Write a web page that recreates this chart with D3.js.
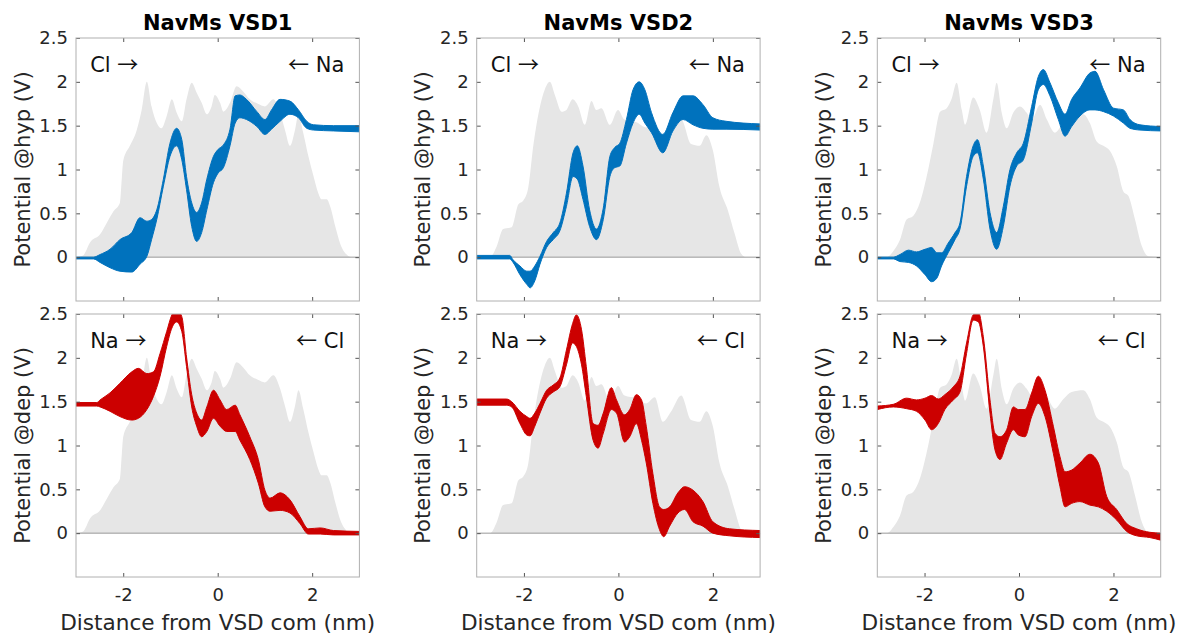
<!DOCTYPE html>
<html>
<head>
<meta charset="utf-8">
<script src="https://cdn.jsdelivr.net/npm/d3@7/dist/d3.min.js"></script>
<style>
  body { margin: 0; background: #fff; }
  svg { display: block; }
</style>
</head>
<body>
<svg id="chart" width="1184" height="634"></svg>
<script>
// ---- data (nm / V) ----
const titles = ['NavMs VSD1', 'NavMs VSD2', 'NavMs VSD3'];
const row_labels = ['Potential @hyp (V)', 'Potential @dep (V)'];
const x_label = 'Distance from VSD com (nm)';
const x_ticks = [-2, 0, 2];
const y_ticks = [0, 0.5, 1, 1.5, 2, 2.5];
// [ion on the left, ion on the right] per row
const ion_names = [['Cl', 'Na'], ['Na', 'Cl']];

// density profile (grey), one per VSD
const gray1_x = [-3.0, -2.85, -2.70, -2.49, -2.35, -2.21, -2.07, -2.03, -2.00, -1.86, -1.72, -1.61, -1.50, -1.40, -1.29, -1.19, -1.08, -0.97, -0.87, -0.76, -0.66, -0.55, -0.44, -0.34, -0.23, -0.13, -0.06, 0.05, 0.12, 0.26, 0.40, 0.54, 0.68, 0.85, 1.0, 1.18, 1.32, 1.43, 1.53, 1.64, 1.71, 1.81, 1.92, 2.03, 2.13, 2.20, 2.31, 2.38, 2.49, 2.59, 2.73, 2.84, 3.0];
const gray1_y = [0, 0.02, 0.17, 0.26, 0.39, 0.52, 0.62, 0.90, 1.10, 1.27, 1.44, 1.68, 2.0, 1.72, 1.53, 1.47, 1.61, 1.80, 1.65, 1.55, 1.80, 1.99, 1.87, 1.76, 1.63, 1.72, 1.85, 1.76, 1.66, 1.76, 1.95, 1.89, 1.80, 1.75, 1.72, 1.80, 1.65, 1.44, 1.27, 1.46, 1.63, 1.42, 1.15, 0.92, 0.73, 0.66, 0.66, 0.58, 0.35, 0.16, 0.03, 0, 0];
const gray2_x = [-3.0, -2.72, -2.58, -2.44, -2.26, -2.12, -2.01, -1.91, -1.80, -1.66, -1.56, -1.45, -1.345, -1.20, -1.10, -0.97, -0.85, -0.71, -0.57, -0.47, -0.36, -0.18, -0.01, 0.13, 0.38, 0.59, 0.77, 0.94, 1.12, 1.33, 1.54, 1.72, 1.86, 2.0, 2.14, 2.32, 2.46, 2.60, 2.70, 3.0];
const gray2_y = [0, 0, 0.12, 0.32, 0.34, 0.60, 0.65, 0.79, 1.28, 1.72, 1.91, 2.0, 1.85, 1.66, 1.68, 1.80, 1.72, 1.51, 1.78, 1.68, 1.70, 1.51, 1.68, 1.57, 1.54, 1.48, 1.55, 1.27, 1.39, 1.57, 1.29, 1.27, 1.39, 1.22, 0.80, 0.53, 0.27, 0.04, 0, 0];
const gray3_x = [-3.0, -2.80, -2.66, -2.52, -2.38, -2.24, -2.10, -1.955, -1.81, -1.67, -1.53, -1.43, -1.32, -1.21, -1.14, -0.97, -0.83, -0.685, -0.544, -0.473, -0.367, -0.26, -0.12, 0.02, 0.16, 0.27, 0.445, 0.59, 0.76, 0.94, 1.115, 1.36, 1.50, 1.645, 1.786, 1.927, 2.068, 2.21, 2.315, 2.456, 2.598, 2.74, 3.0];
const gray3_y = [0, 0, 0.07, 0.20, 0.43, 0.47, 0.62, 0.92, 1.30, 1.66, 1.70, 1.80, 1.99, 1.68, 1.51, 1.82, 1.68, 1.42, 1.80, 1.99, 1.65, 1.47, 1.65, 1.72, 1.65, 1.57, 1.74, 1.57, 1.42, 1.53, 1.61, 1.63, 1.53, 1.32, 1.27, 1.21, 1.04, 0.75, 0.70, 0.43, 0.13, 0.01, 0];

// potential envelopes, hyperpolarised (blue)
const hyp1_x = [-3.0, -2.63, -2.49, -2.28, -2.07, -1.82, -1.645, -1.50, -1.40, -1.29, -1.15, -1.01, -0.87, -0.76, -0.66, -0.55, -0.445, -0.34, -0.23, -0.09, 0.01, 0.12, 0.26, 0.37, 0.47, 0.61, 0.83, 1.0, 1.14, 1.32, 1.53, 1.71, 1.885, 2.03, 2.45, 3.0];
const hyp1_hi = [0, 0, 0.03, 0.09, 0.20, 0.28, 0.45, 0.41, 0.43, 0.54, 0.89, 1.30, 1.47, 1.34, 0.92, 0.62, 0.51, 0.62, 0.89, 1.15, 1.23, 1.28, 1.46, 1.84, 1.85, 1.80, 1.66, 1.57, 1.68, 1.80, 1.78, 1.68, 1.55, 1.51, 1.50, 1.50];
const hyp1_lo = [-0.02, -0.02, -0.06, -0.12, -0.16, -0.17, -0.08, 0.01, 0.20, 0.43, 0.81, 1.15, 1.27, 1.11, 0.77, 0.35, 0.18, 0.28, 0.54, 0.85, 0.96, 1.02, 1.27, 1.53, 1.59, 1.57, 1.49, 1.40, 1.46, 1.55, 1.63, 1.59, 1.47, 1.45, 1.44, 1.43];
const hyp2_x = [-3.0, -2.30, -2.23, -2.085, -1.94, -1.87, -1.77, -1.66, -1.52, -1.38, -1.24, -1.10, -0.96, -0.87, -0.75, -0.61, -0.465, -0.32, -0.18, -0.08, 0.03, 0.17, 0.31, 0.44, 0.56, 0.70, 0.94, 1.155, 1.37, 1.58, 1.79, 2.0, 2.28, 3.0];
const hyp2_hi = [0.02, 0.02, -0.03, -0.10, -0.16, -0.16, -0.10, 0.01, 0.18, 0.28, 0.39, 0.73, 1.19, 1.27, 1.04, 0.54, 0.32, 0.56, 1.15, 1.25, 1.30, 1.57, 1.91, 2.0, 1.91, 1.65, 1.40, 1.65, 1.84, 1.84, 1.74, 1.59, 1.55, 1.52];
const hyp2_lo = [-0.02, -0.02, -0.06, -0.20, -0.31, -0.35, -0.27, -0.08, 0.11, 0.20, 0.30, 0.58, 0.92, 0.89, 0.66, 0.35, 0.20, 0.43, 0.92, 1.02, 1.04, 1.30, 1.53, 1.63, 1.53, 1.42, 1.19, 1.44, 1.57, 1.51, 1.47, 1.46, 1.46, 1.45];
const hyp3_x = [-3.0, -2.66, -2.52, -2.34, -2.17, -1.99, -1.85, -1.74, -1.64, -1.50, -1.355, -1.25, -1.11, -0.97, -0.88, -0.755, -0.614, -0.473, -0.332, -0.191, -0.049, 0.092, 0.268, 0.409, 0.515, 0.656, 0.833, 0.974, 1.115, 1.29, 1.50, 1.61, 1.79, 2.0, 2.21, 2.35, 2.56, 3.0];
const hyp3_hi = [0.0, 0.0, 0.03, 0.08, 0.06, 0.09, 0.11, 0.05, 0.05, 0.16, 0.28, 0.39, 0.92, 1.27, 1.34, 1.04, 0.51, 0.28, 0.58, 1.0, 1.19, 1.30, 1.72, 2.06, 2.14, 1.99, 1.76, 1.63, 1.80, 1.93, 2.10, 2.12, 1.91, 1.70, 1.68, 1.57, 1.51, 1.49];
const hyp3_lo = [-0.02, -0.02, -0.05, -0.06, -0.10, -0.20, -0.28, -0.24, -0.10, 0.05, 0.20, 0.32, 0.81, 1.15, 1.19, 0.89, 0.32, 0.09, 0.35, 0.81, 1.04, 1.11, 1.53, 1.91, 1.97, 1.84, 1.57, 1.38, 1.49, 1.61, 1.68, 1.68, 1.66, 1.61, 1.53, 1.47, 1.45, 1.44];

// potential envelopes, depolarised (red)
const dep1_x = [-3.0, -2.56, -2.49, -2.28, -2.07, -1.82, -1.68, -1.50, -1.36, -1.22, -1.08, -0.97, -0.87, -0.76, -0.66, -0.55, -0.445, -0.34, -0.23, -0.09, 0.05, 0.19, 0.37, 0.47, 0.68, 0.86, 1.0, 1.11, 1.32, 1.53, 1.74, 1.92, 2.17, 2.45, 3.0];
const dep1_hi = [1.49, 1.49, 1.52, 1.60, 1.71, 1.84, 1.88, 1.82, 1.84, 2.05, 2.30, 2.49, 2.55, 2.47, 2.01, 1.58, 1.37, 1.29, 1.44, 1.63, 1.52, 1.41, 1.46, 1.35, 1.10, 0.84, 0.49, 0.40, 0.46, 0.38, 0.19, 0.05, 0.06, 0.03, 0.02];
const dep1_lo = [1.45, 1.45, 1.44, 1.39, 1.33, 1.29, 1.31, 1.41, 1.56, 1.79, 2.13, 2.34, 2.41, 2.30, 1.90, 1.44, 1.22, 1.10, 1.16, 1.31, 1.22, 1.16, 1.16, 1.06, 0.84, 0.57, 0.30, 0.25, 0.26, 0.23, 0.11, -0.01, -0.01, -0.02, -0.02];
const dep2_x = [-3.0, -2.37, -2.26, -2.085, -1.94, -1.87, -1.77, -1.66, -1.52, -1.38, -1.24, -1.10, -0.97, -0.89, -0.78, -0.68, -0.535, -0.43, -0.32, -0.15, -0.04, 0.13, 0.24, 0.38, 0.49, 0.59, 0.73, 0.87, 0.96, 1.085, 1.26, 1.40, 1.58, 1.79, 2.0, 2.35, 3.0];
const dep2_hi = [1.53, 1.53, 1.50, 1.39, 1.33, 1.31, 1.37, 1.48, 1.63, 1.69, 1.77, 2.09, 2.39, 2.49, 2.32, 1.90, 1.25, 1.23, 1.37, 1.66, 1.52, 1.35, 1.41, 1.58, 1.52, 1.22, 0.68, 0.30, 0.27, 0.30, 0.46, 0.53, 0.49, 0.36, 0.13, 0.05, 0.03];
const dep2_lo = [1.46, 1.46, 1.44, 1.25, 1.12, 1.11, 1.22, 1.37, 1.54, 1.61, 1.67, 1.92, 2.17, 2.13, 1.92, 1.56, 1.06, 0.97, 1.14, 1.41, 1.37, 1.04, 1.10, 1.25, 1.06, 0.80, 0.34, 0.04, -0.04, 0.08, 0.23, 0.27, 0.13, 0.08, 0.0, -0.03, -0.05];
const dep3_x = [-3.0, -2.66, -2.38, -2.17, -1.99, -1.85, -1.71, -1.57, -1.39, -1.25, -1.11, -0.97, -0.86, -0.755, -0.614, -0.508, -0.402, -0.261, -0.12, -0.014, 0.127, 0.268, 0.409, 0.551, 0.727, 0.868, 0.974, 1.115, 1.29, 1.50, 1.68, 1.856, 2.068, 2.28, 2.49, 2.77, 3.0];
const dep3_hi = [1.45, 1.47, 1.54, 1.52, 1.54, 1.57, 1.53, 1.58, 1.67, 1.79, 2.17, 2.49, 2.52, 2.24, 1.52, 1.14, 1.10, 1.18, 1.44, 1.41, 1.41, 1.60, 1.79, 1.63, 1.22, 0.87, 0.70, 0.72, 0.80, 0.90, 0.80, 0.42, 0.27, 0.11, 0.05, 0.01, 0];
const dep3_lo = [1.41, 1.44, 1.42, 1.39, 1.29, 1.18, 1.25, 1.41, 1.52, 1.61, 2.05, 2.43, 2.41, 2.13, 1.37, 0.95, 0.84, 1.03, 1.18, 1.12, 1.10, 1.33, 1.48, 1.33, 0.91, 0.53, 0.30, 0.34, 0.36, 0.32, 0.30, 0.25, 0.15, 0.02, -0.03, -0.05, -0.08];

// ---- layout ----
const col_left = [76, 476.7, 877.3];
const row_top = [38, 314];
const panel_w = 283.4, panel_h = 263;
const band_colors = ['#0072bd', '#cc0000'];
const font = 'DejaVu Sans, sans-serif';
const arrow_font = 'Noto Sans CJK SC';   // thin TeX-like arrows

let zip = (xs, ys) => xs.map((x, i) => [x, ys[i]]);
let zip3 = (xs, lo, hi) => xs.map((x, i) => [x, lo[i], hi[i]]);

const grays = [zip(gray1_x, gray1_y), zip(gray2_x, gray2_y), zip(gray3_x, gray3_y)];
const bands = [
  [zip3(hyp1_x, hyp1_lo, hyp1_hi), zip3(hyp2_x, hyp2_lo, hyp2_hi), zip3(hyp3_x, hyp3_lo, hyp3_hi)],
  [zip3(dep1_x, dep1_lo, dep1_hi), zip3(dep2_x, dep2_lo, dep2_hi), zip3(dep3_x, dep3_lo, dep3_hi)]
];

const svg = d3.select('#chart');
svg.append('rect').attr('width', 1184).attr('height', 634).attr('fill', 'white');

let x = d3.scaleLinear().domain([-3, 3]).range([0, panel_w]);
let y = d3.scaleLinear().domain([-0.5, 2.5]).range([panel_h, 0]);

function style_axis(g){
  g.attr('font-family', font).attr('font-size', 18);
  g.select('.domain').remove();
  g.selectAll('.tick line').attr('stroke', '#555');
  g.selectAll('.tick text').attr('fill', '#262626');
}

for(let r = 0; r < 2; r++){
  for(let c = 0; c < 3; c++){
    let panel = svg.append('g').attr('transform', 'translate(' + col_left[c] + ',' + row_top[r] + ')');
    let clip_id = 'clip_' + r + '_' + c;
    panel.append('clipPath').attr('id', clip_id)
      .append('rect').attr('width', panel_w).attr('height', panel_h);
    let plot = panel.append('g').attr('clip-path', 'url(#' + clip_id + ')');

    plot.append('path').datum(grays[c])
      .attr('fill', '#e6e6e6')
      .attr('d', d3.area().curve(d3.curveMonotoneX)
        .x(d => x(d[0])).y0(y(0)).y1(d => y(d[1])));

    plot.append('line')
      .attr('x1', 0).attr('x2', panel_w).attr('y1', y(0)).attr('y2', y(0))
      .attr('stroke', '#999').attr('stroke-width', 1);

    plot.append('path').datum(bands[r][c])
      .attr('fill', band_colors[r]).attr('stroke', band_colors[r]).attr('stroke-width', 1)
      .attr('d', d3.area().curve(d3.curveMonotoneX)
        .x(d => x(d[0])).y0(d => y(d[1])).y1(d => y(d[2])));

    // axes, ticks pointing inwards on all four sides
    panel.append('g').call(d3.axisLeft(y).tickValues(y_ticks).tickSize(-4).tickPadding(8).tickFormat(d => String(d)))
      .call(style_axis);
    panel.append('g').attr('transform', 'translate(' + panel_w + ',0)')
      .call(d3.axisRight(y).tickValues(y_ticks).tickSize(-4).tickFormat(''))
      .call(style_axis);
    panel.append('g')
      .call(d3.axisTop(x).tickValues(x_ticks).tickSize(-4).tickFormat(''))
      .call(style_axis);
    let bottom = d3.axisBottom(x).tickValues(x_ticks).tickSize(-4).tickPadding(11)
      .tickFormat(r == 0 ? '' : d => String(d));
    panel.append('g').attr('transform', 'translate(0,' + panel_h + ')')
      .call(bottom)
      .call(style_axis);

    panel.append('rect').attr('width', panel_w).attr('height', panel_h)
      .attr('fill', 'none').attr('stroke', '#b0b0b0').attr('stroke-width', 1);

    // ion direction labels
    let left_lab = panel.append('text').attr('x', x(-2.70)).attr('y', y(2.11))
      .attr('font-family', font).attr('font-size', 21).attr('fill', '#111');
    left_lab.append('tspan').text(ion_names[r][0] + ' ');
    left_lab.append('tspan').attr('font-family', arrow_font).text('\u2192');
    let right_lab = panel.append('text').attr('x', x(2.68)).attr('y', y(2.11)).attr('text-anchor', 'end')
      .attr('font-family', font).attr('font-size', 21).attr('fill', '#111');
    right_lab.append('tspan').attr('font-family', arrow_font).text('\u2190');
    right_lab.append('tspan').text(' ' + ion_names[r][1]);

    panel.append('text')
      .attr('transform', 'translate(-46.5,' + panel_h / 2 + ') rotate(-90)')
      .attr('text-anchor', 'middle').attr('font-family', font).attr('font-size', 21).attr('fill', '#262626')
      .text(row_labels[r]);

    if(r == 0){
      panel.append('text').attr('x', panel_w / 2).attr('y', -8).attr('text-anchor', 'middle')
        .attr('font-family', font).attr('font-size', 21).attr('font-weight', 'bold').attr('fill', '#000')
        .text(titles[c]);
    }else{
      panel.append('text').attr('x', panel_w / 2).attr('y', panel_h + 53).attr('text-anchor', 'middle')
        .attr('font-family', font).attr('font-size', 21.6).attr('fill', '#262626')
        .text(x_label);
    }
  }
}
</script>
</body>
</html>
